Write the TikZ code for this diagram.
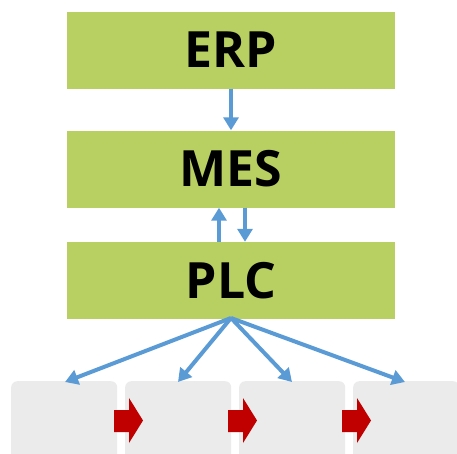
\documentclass[tikz,border=0pt]{standalone}
\usepackage{fontspec}
\setmainfont{Open Sans}
\usetikzlibrary{arrows.meta}
\definecolor{layergreen}{HTML}{B8CF62}
\definecolor{linkblue}{HTML}{5B9BD5}
\definecolor{stepgray}{HTML}{EBEBEB}
\definecolor{flowred}{HTML}{C00000}
\tikzset{
  layer/.style={fill=layergreen, draw=none, minimum width=328pt, minimum height=77pt,
    inner sep=0pt, font=\fontsize{50}{50}\selectfont\bfseries},
  stage/.style={fill=stepgray, draw=none, rounded corners=6pt, minimum width=106pt,
    minimum height=100pt, inner sep=0pt},
  link/.style={draw=linkblue, line width=4pt, -{Triangle[length=13pt,width=15pt]}},
  flow/.style={fill=flowred, draw=none}
}
\begin{document}
\begin{tikzpicture}[x=1pt,y=-1pt]
\useasboundingbox (0,0) rectangle (457,453);
\begin{scope}
\clip (0,0) rectangle (457,453);
\node[layer] (erp) at (231,50) {ERP};
\node[layer] (mes) at (231,169) {MES};
\node[layer] (plc) at (231,280.5) {PLC};
\node[stage,anchor=north west] (s1) at (11,381) {};
\node[stage,anchor=north west] (s2) at (125,381) {};
\node[stage,anchor=north west] (s3) at (239,381) {};
\node[stage,anchor=north west] (s4) at (353,381) {};
% block arrows between neighbouring stages
\foreach \x in {114,228,342}
  \fill[flow] (\x,410) -- ++(15,0) -- ++(0,-12) -- ++(14,22.5) -- ++(-14,22.5)
    -- ++(0,-11) -- ++(-15,0) -- cycle;
\end{scope}
\draw[link] (erp.south) -- (mes.north);
\draw[link] ([xshift=-12pt]plc.north) -- ([xshift=-12pt]mes.south);
\draw[link] ([xshift=14pt]mes.south) -- ([xshift=14pt]plc.north);
\coordinate (hub) at (231,318);
\coordinate (t1) at (65,382);
\coordinate (t2) at (178,382);
\coordinate (t3) at (292,382);
\coordinate (t4) at (405,382);
\foreach \t in {t1,t2,t3,t4}
  \draw[link] (hub) -- (\t);
\end{tikzpicture}
\end{document}
